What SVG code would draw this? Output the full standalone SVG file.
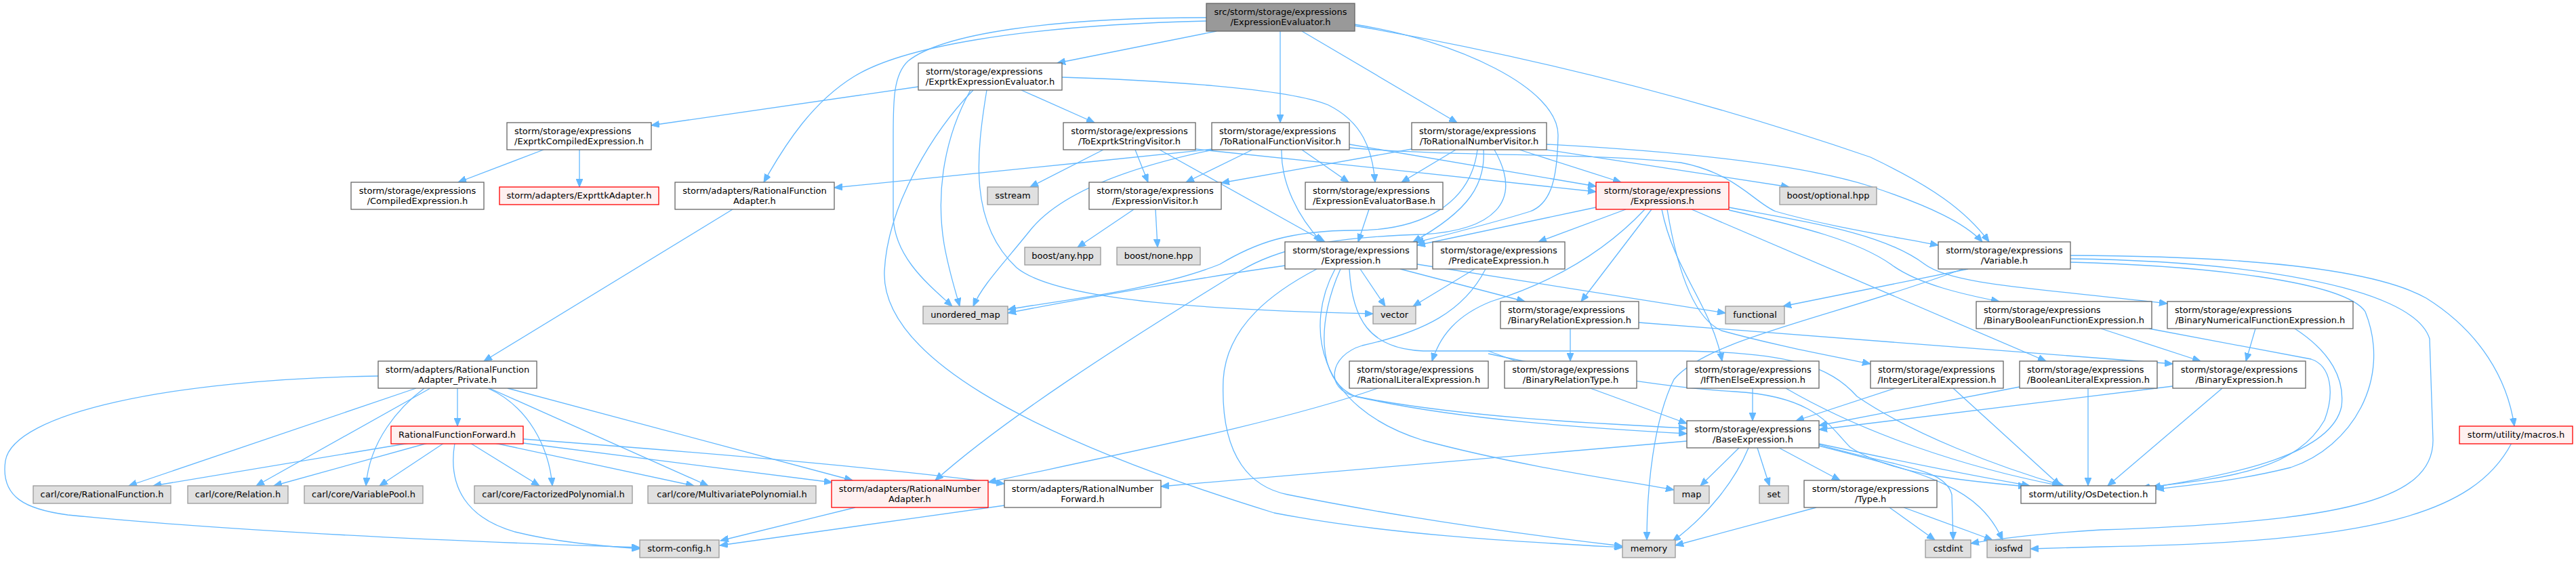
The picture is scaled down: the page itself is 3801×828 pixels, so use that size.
<svg xmlns="http://www.w3.org/2000/svg" width="3801" height="828" viewBox="0 0 3801 828">
<defs>
<style>
.e{fill:none;stroke:#63b8ff;stroke-width:1.3;marker-end:url(#a)}
rect{stroke-width:1.3}
.n rect{fill:#fff;stroke:#666}
.x rect{fill:#e0e0e0;stroke:#999}
.r rect{fill:#fff0f0;stroke:#f00}
.g rect{fill:#999;stroke:#666}
text{font-family:"DejaVu Sans","Liberation Sans",sans-serif;font-size:13px;fill:#000}
.m{text-anchor:middle}
</style>
<marker id="a" markerUnits="userSpaceOnUse" markerWidth="13" markerHeight="10" refX="12" refY="5" orient="auto"><path d="M0,0 L12,5 L0,10 z" fill="#63b8ff" stroke="#63b8ff"/></marker>
</defs>
<rect width="3801" height="828" fill="#fff"/>
<g id="edges">
<path class="e" d="M1795,46 L1560,93"/>
<path class="e" d="M1889,46 L1889,181"/>
<path class="e" d="M1921,46 L2150,181"/>
<path class="e" d="M1999,36 C2150,60 2300,130 2299,200 C2298,260 2290,300 2258,312 C2200,330 2140,345 2089,358"/>
<path class="e" d="M1999,38 C2300,90 2550,160 2760,232 C2850,275 2900,310 2935,357"/>
<path class="e" d="M1780,26 C1550,26 1390,50 1340,90 C1318,110 1318,150 1318,200 L1318,320 C1320,380 1370,420 1405,452"/>
<path class="e" d="M1780,31 C1500,38 1330,70 1260,113 C1200,150 1160,210 1127,269"/>
<path class="e" d="M1355,128 L961,185"/>
<path class="e" d="M1507,133 L1615,181"/>
<path class="e" d="M1567,114 C1700,118 1900,130 1960,155 C2010,180 2025,220 2029,269"/>
<path class="e" d="M1436,133 C1380,190 1310,300 1305,400 C1300,520 1500,640 1880,757 C2050,790 2250,800 2394,808"/>
<path class="e" d="M1432,133 C1395,200 1380,280 1393,360 C1400,400 1410,430 1416,452"/>
<path class="e" d="M1456,133 C1440,230 1430,330 1500,395 C1560,445 1800,458 2026,463"/>
<path class="e" d="M802,221 L676,269"/>
<path class="e" d="M855,221 L855,276"/>
<path class="e" d="M1081,309 L714,533"/>
<path class="e" d="M1628,221 L1520,276"/>
<path class="e" d="M1675,221 L1694,269"/>
<path class="e" d="M1711,221 L1955,357"/>
<path class="e" d="M1764,220 C1900,235 2200,265 2355,283"/>
<path class="e" d="M1790,220 C1600,240 1350,265 1231,277"/>
<path class="e" d="M1848,221 L1750,269"/>
<path class="e" d="M1921,221 L1990,269"/>
<path class="e" d="M1891,221 C1890,270 1915,320 1950,357"/>
<path class="e" d="M1991,213 L2355,275"/>
<path class="e" d="M1991,218 C2150,232 2350,225 2480,240 C2560,255 2590,300 2620,312 C2700,335 2800,350 2860,362"/>
<path class="e" d="M1790,221 C1650,250 1560,290 1520,340 C1480,390 1450,420 1436,452"/>
<path class="e" d="M2083,220 L1802,270"/>
<path class="e" d="M2148,221 L2068,269"/>
<path class="e" d="M2242,221 L2392,269"/>
<path class="e" d="M2189,221 C2192,270 2170,310 2085,357"/>
<path class="e" d="M2282,213 C2450,222 2650,240 2760,275 C2850,305 2900,330 2925,357"/>
<path class="e" d="M2282,221 L2640,276"/>
<path class="e" d="M2180,221 C2170,300 2100,340 2000,340 C1900,340 1850,360 1800,390 C1700,430 1550,445 1487,457"/>
<path class="e" d="M2205,221 C2250,300 2200,340 2100,346 C1950,350 1880,370 1830,400 C1650,510 1480,620 1380,709"/>
<path class="e" d="M1673,309 L1590,365"/>
<path class="e" d="M1705,309 L1708,365"/>
<path class="e" d="M2020,309 L2004,357"/>
<path class="e" d="M2355,306 L2091,362"/>
<path class="e" d="M2399,309 L2270,357"/>
<path class="e" d="M2427,309 C2360,380 2280,420 2200,445 C2150,465 2125,495 2113,533"/>
<path class="e" d="M2437,309 L2333,445"/>
<path class="e" d="M2452,309 C2470,400 2525,450 2541,533"/>
<path class="e" d="M2460,309 C2475,400 2500,470 2540,488 C2620,510 2700,525 2760,537"/>
<path class="e" d="M2496,309 L3019,533"/>
<path class="e" d="M2551,310 C2660,335 2740,355 2790,390 C2830,420 2900,435 2950,445"/>
<path class="e" d="M2551,306 C2680,330 2780,345 2840,390 C2880,420 3000,425 3198,448"/>
<path class="e" d="M2007,397 L2044,452"/>
<path class="e" d="M1896,392 C1800,405 1600,440 1487,462"/>
<path class="e" d="M1943,397 C1880,430 1810,480 1805,560 C1800,680 1850,720 1900,730 C2100,770 2300,795 2394,806"/>
<path class="e" d="M1970,397 C1925,480 1940,600 2100,650 C2250,690 2400,710 2470,723"/>
<path class="e" d="M1978,397 C1945,470 1940,560 2000,585 C2150,620 2350,632 2489,640"/>
<path class="e" d="M2176,397 L2085,452"/>
<path class="e" d="M2192,397 C2160,460 2100,490 2010,510 C1960,525 1955,575 2000,585 C2150,615 2350,625 2489,632"/>
<path class="e" d="M2091,390 C2250,415 2400,440 2546,462"/>
<path class="e" d="M2066,397 L2250,445"/>
<path class="e" d="M1991,397 C1995,470 2020,515 2100,518 L2480,518 C2640,520 2700,540 2740,585 C2820,640 2950,690 3045,717"/>
<path class="e" d="M2904,397 L2631,452"/>
<path class="e" d="M2896,397 C2700,470 2520,500 2470,560 C2440,620 2430,720 2430,797"/>
<path class="e" d="M3055,377 C3300,378 3500,395 3580,440 C3660,490 3700,560 3710,629"/>
<path class="e" d="M3055,382 C3300,385 3560,420 3585,500 L3590,650 C3590,740 3450,770 3100,782 C3000,788 2950,795 2908,802"/>
<path class="e" d="M3055,387 C3250,392 3460,415 3490,460 C3530,560 3470,660 3380,690 C3300,710 3230,716 3181,722"/>
<path class="e" d="M3706,654 C3650,760 3500,800 3100,807 L2996,810"/>
<path class="e" d="M3328,485 L3314,533"/>
<path class="e" d="M3386,485 C3440,520 3460,560 3455,600 C3440,670 3300,700 3176,719"/>
<path class="e" d="M3100,485 L3247,533"/>
<path class="e" d="M3171,485 L3410,530 C3440,540 3445,580 3430,620 C3390,690 3300,705 3160,720"/>
<path class="e" d="M3206,570 L2684,634"/>
<path class="e" d="M3279,573 L3110,717"/>
<path class="e" d="M2317,485 L2317,533"/>
<path class="e" d="M2418,476 L3206,537"/>
<path class="e" d="M2196,518 L2489,625"/>
<path class="e" d="M2033,573 C1900,620 1700,660 1458,712"/>
<path class="e" d="M2196,522 C2300,545 2450,572 2560,578 C2680,585 2700,630 2730,660 C2790,700 2900,710 2990,718"/>
<path class="e" d="M2586,573 L2586,621"/>
<path class="e" d="M2635,573 C2750,640 2900,690 3040,717"/>
<path class="e" d="M2796,573 L2650,621"/>
<path class="e" d="M2882,573 L3040,717"/>
<path class="e" d="M2980,571 L2684,628"/>
<path class="e" d="M3081,573 L3081,717"/>
<path class="e" d="M2489,651 L1713,718"/>
<path class="e" d="M2580,661 C2560,710 2520,760 2468,799"/>
<path class="e" d="M2566,661 L2509,717"/>
<path class="e" d="M2593,661 L2611,717"/>
<path class="e" d="M2625,661 L2715,709"/>
<path class="e" d="M2684,655 C2800,680 2900,700 2995,717"/>
<path class="e" d="M2684,656 C2800,690 2870,690 2880,730 L2882,797"/>
<path class="e" d="M2684,658 C2850,700 2920,720 2955,797"/>
<path class="e" d="M2680,749 L2472,805"/>
<path class="e" d="M2788,749 L2855,797"/>
<path class="e" d="M2809,749 L2940,797"/>
<path class="e" d="M614,573 L190,717"/>
<path class="e" d="M635,573 L378,717"/>
<path class="e" d="M626,573 C590,600 545,650 540,717"/>
<path class="e" d="M675,573 L675,629"/>
<path class="e" d="M720,573 C780,600 810,660 815,717"/>
<path class="e" d="M722,573 L1045,717"/>
<path class="e" d="M749,573 L1258,709"/>
<path class="e" d="M558,555 C250,560 20,610 8,680 C0,735 40,752 100,760 C350,785 700,800 944,808"/>
<path class="e" d="M604,654 L226,717"/>
<path class="e" d="M631,654 L404,717"/>
<path class="e" d="M655,654 L560,717"/>
<path class="e" d="M694,654 L796,717"/>
<path class="e" d="M730,654 L1024,717"/>
<path class="e" d="M772,654 L1228,712"/>
<path class="e" d="M772,648 C1000,665 1300,690 1482,714"/>
<path class="e" d="M671,654 C660,720 690,765 760,785 C820,800 880,805 944,810"/>
<path class="e" d="M1262,749 L1063,798"/>
<path class="e" d="M1482,746 L1062,805"/>
</g>
<g id="n1" class="g"><rect x="1780" y="5" width="219" height="41"/><text class="m" x="1889.5" y="22">src/storm/storage/expressions</text><text class="m" x="1889.5" y="37">/ExpressionEvaluator.h</text></g>
<g id="n2" class="n"><rect x="1355" y="93" width="212" height="40"/><text x="1366" y="110">storm/storage/expressions</text><text class="m" x="1461" y="125">/ExprtkExpressionEvaluator.h</text></g>
<g id="n3" class="n"><rect x="748" y="181" width="213" height="40"/><text x="759" y="198">storm/storage/expressions</text><text class="m" x="854.5" y="213">/ExprtkCompiledExpression.h</text></g>
<g id="n4" class="n"><rect x="1569" y="181" width="195" height="40"/><text class="m" x="1666.5" y="198">storm/storage/expressions</text><text class="m" x="1666.5" y="213">/ToExprtkStringVisitor.h</text></g>
<g id="n5" class="n"><rect x="1788" y="181" width="203" height="40"/><text x="1799" y="198">storm/storage/expressions</text><text class="m" x="1889.5" y="213">/ToRationalFunctionVisitor.h</text></g>
<g id="n6" class="n"><rect x="2083" y="181" width="199" height="40"/><text x="2094" y="198">storm/storage/expressions</text><text class="m" x="2182.5" y="213">/ToRationalNumberVisitor.h</text></g>
<g id="n7" class="n"><rect x="518" y="269" width="196" height="40"/><text class="m" x="616" y="286">storm/storage/expressions</text><text class="m" x="616" y="301">/CompiledExpression.h</text></g>
<g id="n8" class="r"><rect x="737" y="276" width="235" height="26"/><text class="m" x="854.5" y="293">storm/adapters/ExprttkAdapter.h</text></g>
<g id="n9" class="n"><rect x="996" y="269" width="235" height="40"/><text class="m" x="1113.5" y="286">storm/adapters/RationalFunction</text><text class="m" x="1113.5" y="301">Adapter.h</text></g>
<g id="n10" class="x"><rect x="1457" y="276" width="75" height="26"/><text class="m" x="1494.5" y="293">sstream</text></g>
<g id="n11" class="n"><rect x="1607" y="269" width="195" height="40"/><text class="m" x="1704.5" y="286">storm/storage/expressions</text><text class="m" x="1704.5" y="301">/ExpressionVisitor.h</text></g>
<g id="n12" class="n"><rect x="1926" y="269" width="203" height="40"/><text x="1937" y="286">storm/storage/expressions</text><text class="m" x="2027.5" y="301">/ExpressionEvaluatorBase.h</text></g>
<g id="n13" class="r"><rect x="2355" y="269" width="196" height="40"/><text class="m" x="2453" y="286">storm/storage/expressions</text><text class="m" x="2453" y="301">/Expressions.h</text></g>
<g id="n14" class="x"><rect x="2626" y="276" width="143" height="26"/><text class="m" x="2697.5" y="293">boost/optional.hpp</text></g>
<g id="n15" class="x"><rect x="1512" y="365" width="112" height="26"/><text class="m" x="1568" y="382">boost/any.hpp</text></g>
<g id="n16" class="x"><rect x="1648" y="365" width="123" height="26"/><text class="m" x="1709.5" y="382">boost/none.hpp</text></g>
<g id="n17" class="n"><rect x="1896" y="357" width="195" height="40"/><text class="m" x="1993.5" y="374">storm/storage/expressions</text><text class="m" x="1993.5" y="389">/Expression.h</text></g>
<g id="n18" class="n"><rect x="2114" y="357" width="195" height="40"/><text class="m" x="2211.5" y="374">storm/storage/expressions</text><text class="m" x="2211.5" y="389">/PredicateExpression.h</text></g>
<g id="n19" class="n"><rect x="2860" y="357" width="195" height="40"/><text class="m" x="2957.5" y="374">storm/storage/expressions</text><text class="m" x="2957.5" y="389">/Variable.h</text></g>
<g id="n20" class="x"><rect x="1362" y="452" width="125" height="26"/><text class="m" x="1424.5" y="469">unordered_map</text></g>
<g id="n21" class="x"><rect x="2026" y="452" width="63" height="26"/><text class="m" x="2057.5" y="469">vector</text></g>
<g id="n22" class="x"><rect x="2546" y="452" width="87" height="26"/><text class="m" x="2589.5" y="469">functional</text></g>
<g id="n23" class="n"><rect x="2214" y="445" width="204" height="40"/><text x="2225" y="462">storm/storage/expressions</text><text class="m" x="2316" y="477">/BinaryRelationExpression.h</text></g>
<g id="n24" class="n"><rect x="2916" y="445" width="259" height="40"/><text x="2927" y="462">storm/storage/expressions</text><text class="m" x="3045.5" y="477">/BinaryBooleanFunctionExpression.h</text></g>
<g id="n25" class="n"><rect x="3198" y="445" width="274" height="40"/><text x="3209" y="462">storm/storage/expressions</text><text class="m" x="3335" y="477">/BinaryNumericalFunctionExpression.h</text></g>
<g id="n26" class="n"><rect x="558" y="533" width="234" height="40"/><text class="m" x="675" y="550">storm/adapters/RationalFunction</text><text class="m" x="675" y="565">Adapter_Private.h</text></g>
<g id="n27" class="n"><rect x="1991" y="533" width="205" height="40"/><text x="2002" y="550">storm/storage/expressions</text><text class="m" x="2093.5" y="565">/RationalLiteralExpression.h</text></g>
<g id="n28" class="n"><rect x="2220" y="533" width="195" height="40"/><text class="m" x="2317.5" y="550">storm/storage/expressions</text><text class="m" x="2317.5" y="565">/BinaryRelationType.h</text></g>
<g id="n29" class="n"><rect x="2489" y="533" width="195" height="40"/><text class="m" x="2586.5" y="550">storm/storage/expressions</text><text class="m" x="2586.5" y="565">/IfThenElseExpression.h</text></g>
<g id="n30" class="n"><rect x="2760" y="533" width="196" height="40"/><text x="2771" y="550">storm/storage/expressions</text><text class="m" x="2858" y="565">/IntegerLiteralExpression.h</text></g>
<g id="n31" class="n"><rect x="2980" y="533" width="203" height="40"/><text x="2991" y="550">storm/storage/expressions</text><text class="m" x="3081.5" y="565">/BooleanLiteralExpression.h</text></g>
<g id="n32" class="n"><rect x="3206" y="533" width="196" height="40"/><text class="m" x="3304" y="550">storm/storage/expressions</text><text class="m" x="3304" y="565">/BinaryExpression.h</text></g>
<g id="n33" class="n"><rect x="2489" y="621" width="195" height="40"/><text class="m" x="2586.5" y="638">storm/storage/expressions</text><text class="m" x="2586.5" y="653">/BaseExpression.h</text></g>
<g id="n34" class="r"><rect x="577" y="629" width="195" height="26"/><text class="m" x="674.5" y="646">RationalFunctionForward.h</text></g>
<g id="n35" class="r"><rect x="3629" y="629" width="167" height="26"/><text class="m" x="3712.5" y="646">storm/utility/macros.h</text></g>
<g id="n36" class="r"><rect x="1227" y="709" width="231" height="40"/><text class="m" x="1342.5" y="726">storm/adapters/RationalNumber</text><text class="m" x="1342.5" y="741">Adapter.h</text></g>
<g id="n37" class="n"><rect x="1482" y="709" width="231" height="40"/><text class="m" x="1597.5" y="726">storm/adapters/RationalNumber</text><text class="m" x="1597.5" y="741">Forward.h</text></g>
<g id="n38" class="n"><rect x="2662" y="709" width="196" height="40"/><text class="m" x="2760" y="726">storm/storage/expressions</text><text class="m" x="2760" y="741">/Type.h</text></g>
<g id="n39" class="x"><rect x="49" y="717" width="203" height="26"/><text class="m" x="150.5" y="734">carl/core/RationalFunction.h</text></g>
<g id="n40" class="x"><rect x="277" y="717" width="148" height="26"/><text class="m" x="351" y="734">carl/core/Relation.h</text></g>
<g id="n41" class="x"><rect x="449" y="717" width="175" height="26"/><text class="m" x="536.5" y="734">carl/core/VariablePool.h</text></g>
<g id="n42" class="x"><rect x="700" y="717" width="233" height="26"/><text class="m" x="816.5" y="734">carl/core/FactorizedPolynomial.h</text></g>
<g id="n43" class="x"><rect x="956" y="717" width="248" height="26"/><text class="m" x="1080" y="734">carl/core/MultivariatePolynomial.h</text></g>
<g id="n44" class="x"><rect x="2470" y="717" width="52" height="26"/><text class="m" x="2496" y="734">map</text></g>
<g id="n45" class="x"><rect x="2596" y="717" width="43" height="26"/><text class="m" x="2617.5" y="734">set</text></g>
<g id="n46" class="n"><rect x="2982" y="717" width="199" height="26"/><text class="m" x="3081.5" y="734">storm/utility/OsDetection.h</text></g>
<g id="n47" class="x"><rect x="944" y="797" width="117" height="26"/><text class="m" x="1002.5" y="814">storm-config.h</text></g>
<g id="n48" class="x"><rect x="2394" y="797" width="78" height="26"/><text class="m" x="2433" y="814">memory</text></g>
<g id="n49" class="x"><rect x="2841" y="797" width="67" height="26"/><text class="m" x="2874.5" y="814">cstdint</text></g>
<g id="n50" class="x"><rect x="2932" y="797" width="64" height="26"/><text class="m" x="2964" y="814">iosfwd</text></g>
</svg>
